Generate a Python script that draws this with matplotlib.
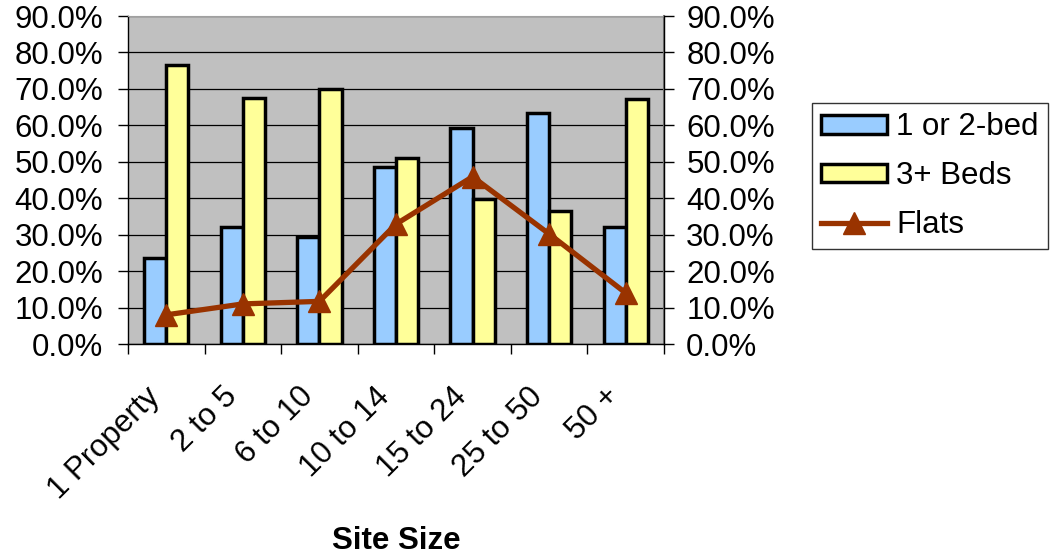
import matplotlib
matplotlib.use("Agg")
import matplotlib.pyplot as plt
import numpy as np
from matplotlib.ticker import FixedLocator, FuncFormatter

# Share of units by site size
categories = ["1 Property", "2 to 5", "6 to 10", "10 to 14", "15 to 24", "25 to 50", "50 +"]
one_or_two_bed = [23.5, 32.2, 29.4, 48.6, 59.4, 63.3, 32.2]
three_plus_beds = [76.5, 67.5, 70.0, 51.1, 39.9, 36.5, 67.2]
flats = [8.0, 11.0, 11.7, 32.9, 45.9, 30.2, 14.0]
y_ticks = [0, 10, 20, 30, 40, 50, 60, 70, 80, 90]

plt.rcParams["font.family"] = ["Liberation Sans", "DejaVu Sans"]
FS = 22.5

fig = plt.figure(figsize=(10.58, 5.60), dpi=100)
ax = fig.add_axes([128 / 1058, 1 - 344 / 560, (664 - 128) / 1058, (344 - 16) / 560])
ax.set_facecolor("#C0C0C0")

x = np.arange(len(categories))
bw = 0.29
b1 = ax.bar(x - bw, one_or_two_bed, width=bw, align="edge", color="#99CCFF",
            edgecolor="black", linewidth=2.5, label="1 or 2-bed", zorder=3)
b2 = ax.bar(x, three_plus_beds, width=bw, align="edge", color="#FFFF99",
            edgecolor="black", linewidth=2.5, label="3+ Beds", zorder=3)
ln, = ax.plot(x, flats, color="#993300", linewidth=3.8, marker="^", markersize=16,
              label="Flats", zorder=4)

ax.set_xlim(-0.5, len(categories) - 0.5)
ax.set_ylim(0, 90)
ax.yaxis.set_major_locator(FixedLocator(y_ticks))
pct = FuncFormatter(lambda v, p: f"{v:.1f}%")
ax.yaxis.set_major_formatter(pct)
ax.grid(axis="y", color="black", linewidth=0.9, zorder=1)
ax.set_axisbelow(True)

# category ticks sit between groups, labels at group centres
ax.set_xticks(np.arange(len(categories) + 1) - 0.5)
ax.set_xticklabels([])
ax.set_xticks(x, minor=True)
ax.set_xticklabels(categories, minor=True, rotation=45, ha="right",
                   va="top", rotation_mode="default", fontsize=FS)
ax.tick_params(axis="x", which="major", length=7, width=1, color="black", direction="out")
ax.tick_params(axis="x", which="minor", length=0, pad=27)
ax.tick_params(axis="y", length=7, width=1, color="black", labelsize=FS, pad=11)

for side in ("left", "bottom"):
    ax.spines[side].set_color("black")
    ax.spines[side].set_linewidth(1)
ax.spines["top"].set_color("#A0A0A0")
ax.spines["right"].set_color("#808080")
ax.spines["right"].set_linewidth(1.5)

ax2 = ax.twinx()
ax2.set_ylim(0, 90)
ax2.yaxis.set_major_locator(FixedLocator(y_ticks))
ax2.yaxis.set_major_formatter(pct)
ax2.tick_params(axis="y", length=7, width=1, color="black", labelsize=FS, pad=9)
for side in ("top", "left", "bottom"):
    ax2.spines[side].set_visible(False)
ax2.spines["right"].set_color("black")
ax2.spines["right"].set_linewidth(1)

fig.text(396 / 1058, 1 - 541 / 560, "Site Size", ha="center", va="center",
         fontsize=FS, fontweight="bold")

leg = fig.legend([b1, b2, ln], ["1 or 2-bed", "3+ Beds", "Flats"], loc="upper left",
                 bbox_to_anchor=(812 / 1058, 1 - 103 / 560), borderaxespad=0,
                 fontsize=FS, frameon=True, fancybox=False, shadow=False,
                 handlelength=2.1, handleheight=0.55, labelspacing=0.6,
                 handletextpad=0.3, borderpad=0.3)
leg.get_frame().set_edgecolor("black")
leg.get_frame().set_linewidth(1)

fig.savefig("out.png", dpi=100)
